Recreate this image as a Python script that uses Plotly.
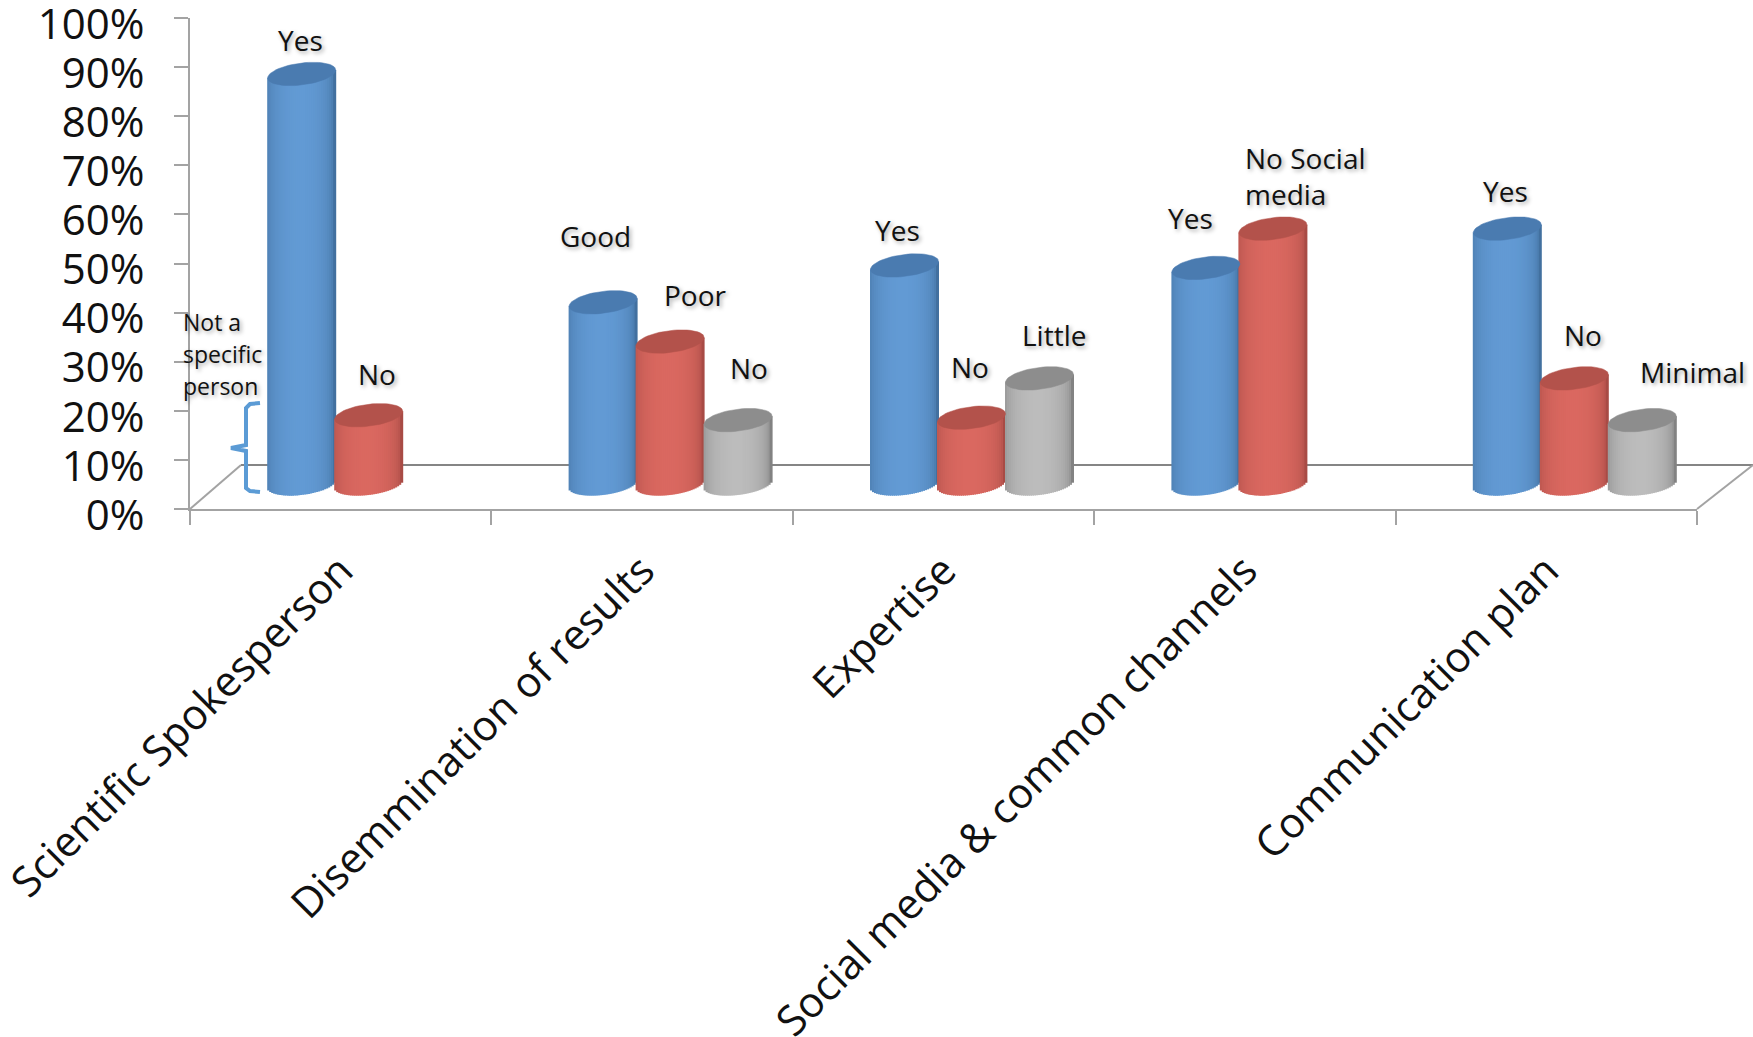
import math
import plotly.graph_objects as go

# Survey results per communication criterion (percent)
categories = ["Scientific Spokesperson", "Disemmination of results", "Expertise",
              "Social media &amp; common channels", "Communication plan"]
first_answer = [83.5, 37, 44.5, 44, 52]
second_answer = [14, 29, 13.5, 52, 21.5]
third_answer = [None, 13, 21.5, None, 13]

# Answer captions: text, centre x, centre y in page pixels
answer_captions = [
    ("Yes", 300, 40), ("No", 377, 374),
    ("Good", 595, 236), ("Poor", 695, 295), ("No", 749, 368),
    ("Yes", 897, 230), ("No", 970, 367), ("Little", 1054, 335),
    ("Yes", 1190, 218),
    ("Yes", 1505, 191), ("No", 1583, 335), ("Minimal", 1692, 372),
]
side_captions = [
    ("No Social", 1243, 158), ("media", 1243, 194),
    ("Not a", 181, 322), ("specific", 181, 354), ("person", 181, 386),
]

# Page geometry of the plot area
PAGE_W, PAGE_H = 1753, 1037
PLOT_LEFT, PLOT_RIGHT, PLOT_TOP, PLOT_BOTTOM = 190, 1697, 18, 509
PX_X = (PLOT_RIGHT - PLOT_LEFT) / 5
PX_Y = (PLOT_BOTTOM - PLOT_TOP) / 100
FLOOR_LIFT = 5.1      # cylinders stand this far up the axis because of the depth
RADIUS_X, RADIUS_Y, TILT = 34, 11, 4
STRIPS = 34
OFFSETS = [-39, 28, 96]

SERIES = [
    (first_answer, "#42709f", "#629ad4", "#4a7bb0"),
    (second_answer, "#a84b45", "#da6860", "#b3524b"),
    (third_answer, "#828282", "#bcbcbc", "#8d8d8d"),
]
AXIS_COLOR = "#a3a3a3"
FLOOR_COLOR = "#858585"
TEXT_FONT = "Open Sans"
SHADOW = "2px 2px 4px rgba(0,0,0,0.35)"


def mix(c1, c2, t):
    a = [int(c1[i:i + 2], 16) for i in (1, 3, 5)]
    b = [int(c2[i:i + 2], 16) for i in (1, 3, 5)]
    return "rgb(%d,%d,%d)" % tuple(round(p + (q - p) * t) for p, q in zip(a, b))


def page_x(px):
    return (px - PLOT_LEFT) / PX_X - 0.5


def page_y(py):
    return (PLOT_BOTTOM - py) / PX_Y


def paper_x(px):
    return (px - PLOT_LEFT) / (PLOT_RIGHT - PLOT_LEFT)


def paper_y(py):
    return (PLOT_BOTTOM - py) / (PLOT_BOTTOM - PLOT_TOP)


fig = go.Figure()

# Each cylinder is a run of narrow shaded bars, topped by an elliptical cap
for s, (values, edge, centre, cap) in enumerate(SERIES):
    xs, tops, bases, colors = [], [], [], []
    for c, v in enumerate(values):
        if v is None:
            continue
        cx = c + OFFSETS[s] / PX_X
        for i in range(STRIPS):
            u = -1 + (2 * i + 1) / STRIPS
            low = (FLOOR_LIFT + u * TILT / PX_Y) - RADIUS_Y * math.sqrt(1 - u * u) / PX_Y
            high = FLOOR_LIFT + v + u * TILT / PX_Y
            xs.append(cx + u * RADIUS_X / PX_X)
            bases.append(low)
            tops.append(high - low)
            shade = math.sin(math.acos(min(1, abs(u + 0.05)))) ** 0.8
            colors.append(mix(edge, centre, shade))
    fig.add_trace(go.Bar(
        x=xs, y=tops, base=bases, width=3.0 * RADIUS_X / PX_X / STRIPS,
        marker=dict(color=colors, line=dict(width=0)), showlegend=False, hoverinfo="skip",
    ))

for s, (values, edge, centre, cap) in enumerate(SERIES):
    for c, v in enumerate(values):
        if v is None:
            continue
        cx = c + OFFSETS[s] / PX_X
        steps = [2 * math.pi * k / 60 for k in range(61)]
        fig.add_trace(go.Scatter(
            x=[cx + RADIUS_X * math.cos(t) / PX_X for t in steps],
            y=[FLOOR_LIFT + v + (TILT * math.cos(t) + RADIUS_Y * math.sin(t)) / PX_Y for t in steps],
            mode="lines", fill="toself", fillcolor=cap, line=dict(color=cap, width=0.5),
            showlegend=False, hoverinfo="skip",
        ))

# Bracket beside the first cylinder
brace_x = [260, 250, 246, 246, 231, 246, 246, 250, 260]
brace_y = [403, 404, 408, 445, 448, 451, 488, 491, 492]
fig.add_trace(go.Scatter(
    x=[page_x(p) for p in brace_x], y=[page_y(p) for p in brace_y], mode="lines",
    line=dict(color="#5b9bd5", width=4), cliponaxis=False, showlegend=False, hoverinfo="skip",
))

# Perspective floor behind the bars
floor_segments = [
    (PLOT_LEFT, PLOT_BOTTOM, 241, 465, AXIS_COLOR),
    (241, 465, 1753, 465, FLOOR_COLOR),
    (1753, 465, PLOT_RIGHT, PLOT_BOTTOM, AXIS_COLOR),
]
shapes = [
    dict(type="line", xref="paper", yref="paper", layer="below",
         x0=paper_x(a), y0=paper_y(b), x1=paper_x(c), y1=paper_y(d),
         line=dict(color=col, width=2))
    for a, b, c, d, col in floor_segments
]

annotations = []
for text, px, py in answer_captions:
    annotations.append(dict(
        xref="paper", yref="paper", x=paper_x(px), y=paper_y(py), text=text, showarrow=False,
        xanchor="center", yanchor="middle",
        font=dict(family=TEXT_FONT, size=28, color="#111111", shadow=SHADOW),
    ))
for text, px, py in side_captions:
    annotations.append(dict(
        xref="paper", yref="paper", x=paper_x(px), y=paper_y(py), text=text, showarrow=False,
        xanchor="left", yanchor="middle",
        font=dict(family=TEXT_FONT, size=23 if px < 300 else 28, color="#111111", shadow=SHADOW),
    ))

fig.update_layout(
    width=PAGE_W, height=PAGE_H, autosize=False,
    margin=dict(l=PLOT_LEFT, r=PAGE_W - PLOT_RIGHT, t=PLOT_TOP, b=PAGE_H - PLOT_BOTTOM, autoexpand=False),
    paper_bgcolor="white", plot_bgcolor="rgba(0,0,0,0)", barmode="overlay",
    annotations=annotations, shapes=shapes, showlegend=False,
    xaxis=dict(
        range=[-0.5, 4.5], tickmode="array", tickvals=list(range(5)), ticktext=categories,
        tickangle=-45, ticks="", showgrid=False, zeroline=False, showline=True,
        linecolor=AXIS_COLOR, linewidth=2, ticklabelstandoff=18, ticklabeloverflow="allow",
        tickfont=dict(family=TEXT_FONT, size=42, color="#111111"),
        minor=dict(tickmode="array", tickvals=[i - 0.5 for i in range(6)], ticks="outside",
                   ticklen=14, tickwidth=2, tickcolor=AXIS_COLOR, showgrid=False),
    ),
    yaxis=dict(
        range=[0, 100], tickmode="array", tickvals=list(range(0, 101, 10)),
        ticktext=["%d%%" % t for t in range(0, 101, 10)],
        ticks="outside", ticklen=14, tickwidth=2, tickcolor=AXIS_COLOR,
        showgrid=False, zeroline=False, showline=True, linecolor=AXIS_COLOR, linewidth=2,
        tickfont=dict(family="Open Sans", size=42, color="#111111"),
        ticklabelstandoff=21, ticklabelshift=6, ticklabeloverflow="allow",
    ),
)

fig.write_html("out.html")
